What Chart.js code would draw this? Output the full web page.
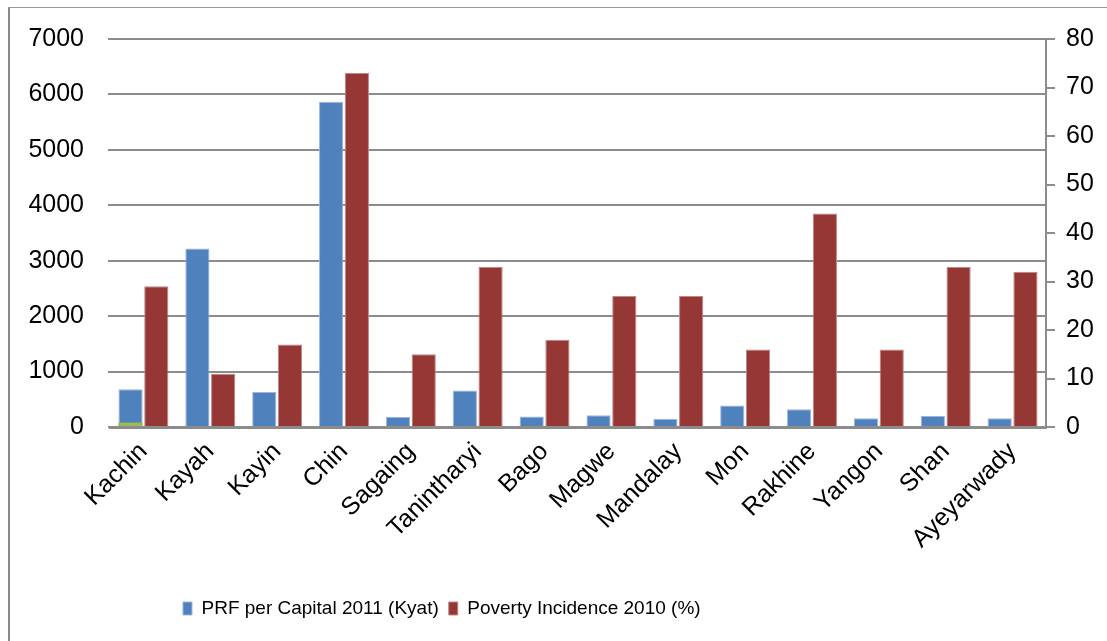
<!DOCTYPE html>
<html>
<head>
<meta charset="utf-8">
<script src="https://cdn.jsdelivr.net/npm/chart.js@4.4.0/dist/chart.umd.min.js"></script>
<style>
  html, body { margin: 0; padding: 0; background: #ffffff; overflow: hidden; }
  #wrap { position: relative; width: 1107px; height: 641px; }
  #c { position: absolute; left: 0; top: 0; }
  #frame { position: absolute; left: 8px; top: 7px; width: 1300px; height: 900px;
           border-left: 2px solid #8a8a8a; border-top: 1px solid #9a9a9a; pointer-events: none; }
</style>
</head>
<body>
<div id="wrap">
  <canvas id="c" width="1107" height="641"></canvas>
  <div id="frame"></div>
</div>
<script>
const categories = ['Kachin','Kayah','Kayin','Chin','Sagaing','Tanintharyi','Bago','Magwe','Mandalay','Mon','Rakhine','Yangon','Shan','Ayeyarwady'];
const prfPerCapita2011 = [680, 3220, 630, 5870, 180, 660, 190, 210, 150, 390, 320, 160, 200, 160];
const povertyIncidence2010 = [29, 11, 17, 73, 15, 33, 18, 27, 27, 16, 44, 16, 33, 32];
const extraSeries = [80, null, null, null, null, null, null, null, null, null, null, null, null, null];
const leftTicks = { min: 0, max: 7000, step: 1000 };
const rightTicks = { min: 0, max: 80, step: 10 };

const FONT = "'Liberation Sans', Arial, sans-serif";
const GRID = '#8c8c8c';

const legendShift = {
  id: 'legendShift',
  afterLayout(chart) {
    const lg = chart.legend;
    const pad = lg.options.labels.padding;
    const w = lg.right - lg.left;
    lg.left = 183 - pad;
    lg.right = lg.left + w;
  }
};

new Chart(document.getElementById('c'), {
  type: 'bar',
  data: {
    labels: categories,
    datasets: [
      {
        label: 'PRF per Capital 2011 (Kyat)',
        data: prfPerCapita2011,
        backgroundColor: '#4f81bd',
        borderColor: '#9ab5dc',
        borderWidth: 1,
        borderSkipped: 'bottom',
        yAxisID: 'y',
        stack: 'a',
        order: 1
      },
      {
        label: 'Poverty Incidence 2010 (%)',
        data: povertyIncidence2010,
        backgroundColor: '#953735',
        borderColor: '#c08584',
        borderWidth: 1,
        borderSkipped: 'bottom',
        yAxisID: 'y2',
        stack: 'b',
        order: 1
      },
      {
        label: 'Series 3',
        data: extraSeries,
        backgroundColor: '#9bbb59',
        yAxisID: 'y',
        stack: 'a',
        order: 0
      }
    ]
  },
  options: {
    responsive: false,
    animation: false,
    devicePixelRatio: 1,
    layout: { padding: { top: 36, left: 0, right: 0, bottom: 13 } },
    datasets: { bar: { categoryPercentage: 0.77, barPercentage: 0.94 } },
    scales: {
      x: {
        grid: { drawOnChartArea: false, drawTicks: false },
        border: { display: true, color: GRID, width: 3 },
        ticks: {
          color: '#000', font: { family: FONT, size: 25 },
          minRotation: 45, maxRotation: 45, autoSkip: false, padding: 10
        },
        afterFit(s) { s.height = 162; }
      },
      y: {
        position: 'left',
        stacked: false,
        min: leftTicks.min, max: leftTicks.max,
        grid: { color: GRID, lineWidth: 2, tickLength: 2 },
        border: { display: false },
        ticks: {
          stepSize: leftTicks.step, color: '#000', font: { family: FONT, size: 25 }, padding: 24,
          callback: (v) => String(v)
        },
        afterFit(s) { s.width = 110; }
      },
      y2: {
        position: 'right',
        stacked: false,
        min: rightTicks.min, max: rightTicks.max,
        grid: { drawOnChartArea: false, color: GRID, lineWidth: 2, tickLength: 9 },
        border: { display: true, color: GRID, width: 2 },
        ticks: {
          stepSize: rightTicks.step, color: '#000', font: { family: FONT, size: 25 }, padding: 11,
          callback: (v) => String(v)
        },
        afterFit(s) { s.width = 61; }
      }
    },
    plugins: {
      tooltip: { enabled: false },
      legend: {
        position: 'bottom',
        align: 'start',
        labels: {
          filter: (item) => item.datasetIndex !== 2,
          color: '#000',
          font: { family: FONT, size: 19 },
          boxWidth: 9, boxHeight: 13, padding: 10
        }
      }
    }
  },
  plugins: [legendShift]
});
</script>
</body>
</html>
